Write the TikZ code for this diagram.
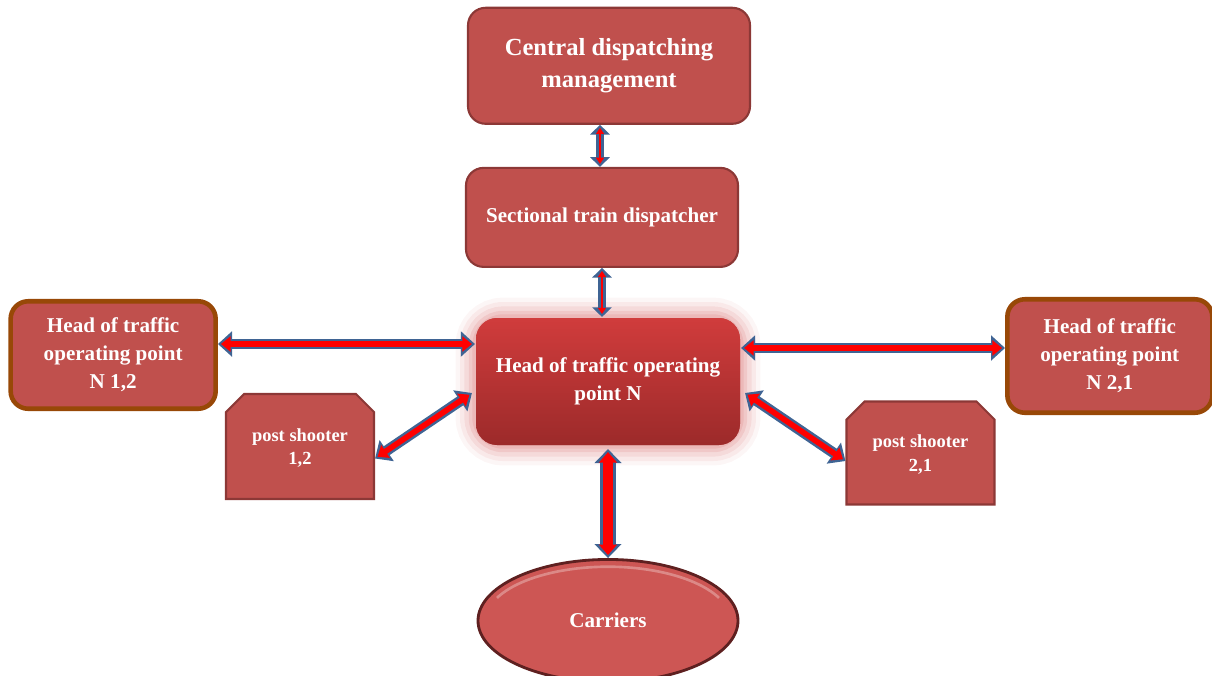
\documentclass[tikz,border=0pt]{standalone}
\usepackage{fontspec}
\setmainfont{Liberation Serif}
\usetikzlibrary{arrows.meta, positioning, shapes.geometric, shapes.misc, backgrounds}

\definecolor{boxred}{HTML}{C0504D}
\definecolor{boxline}{HTML}{8C3836}
\definecolor{headline}{HTML}{984807}
\definecolor{linkblue}{HTML}{3F6494}
\definecolor{cntop}{HTML}{D03C3C}
\definecolor{cnbot}{HTML}{9C2A2A}
\definecolor{glowred}{HTML}{E6A3A3}
\definecolor{ellfill}{HTML}{CD5654}
\definecolor{ellline}{HTML}{5E2020}

% double-coloured two-way arrow: outer style, inner style, from, to
\newcommand{\biarrow}[4]{%
    \draw[#1] #3 -- #4;
    \draw[#2] #3 -- #4;}

\begin{document}
\begin{tikzpicture}[
    node distance=1cm and 1cm,
    block/.style={
        draw=boxline,
        line width=1.2pt,
        rectangle,
        rounded corners=10pt,
        align=center,
        fill=boxred,
        text=white,
        font=\fontsize{12}{16}\selectfont\bfseries
    },
    headbox/.style={block, draw=headline, line width=2.6pt, minimum width=4.1cm, minimum height=2.15cm},
    centerbox/.style={block, draw=none, top color=cntop, bottom color=cnbot, rounded corners=12pt},
    postbox/.style={
        draw=boxline,
        line width=1.2pt,
        chamfered rectangle,
        chamfered rectangle corners={north west, north east},
        chamfered rectangle xsep=0.18cm,
        chamfered rectangle ysep=0.18cm,
        minimum width=2.96cm,
        minimum height=2.1cm,
        align=center,
        fill=boxred,
        text=white,
        font=\fontsize{10.5}{13.5}\selectfont\bfseries
    },
    carrierbox/.style={
        draw=ellline,
        line width=1.6pt,
        ellipse,
        inner sep=0pt,
        minimum width=5.2cm,
        minimum height=2.45cm,
        fill=ellfill,
        text=white,
        font=\fontsize{12}{15}\selectfont\bfseries
    },
    linkout/.style n args={3}{draw=linkblue, line width=#1, {Triangle[length=#2,width=#3]}-{Triangle[length=#2,width=#3]}},
    linkin/.style n args={3}{draw=red, line width=#1, {Triangle[length=#2,width=#3]}-{Triangle[length=#2,width=#3]}, shorten <=1.7pt, shorten >=1.7pt}
]
\useasboundingbox (0,0) rectangle (24.24,-13.5);

% middle of the scheme
\node[centerbox, minimum width=5.28cm, minimum height=2.54cm] (station) at (12.16,-7.63) {Head of traffic operating\\point N};

% upper levels
\node[block, minimum width=5.44cm, minimum height=1.98cm, above=0.98cm of station, xshift=-0.12cm] (sectional) {Sectional train dispatcher};
\node[block, minimum width=5.64cm, minimum height=2.32cm, above=0.84cm of sectional, xshift=0.14cm,
      font=\fontsize{14}{18}\selectfont\bfseries] (central) {Central dispatching\\management};

% neighbouring points
\node[headbox, left=5.14cm of station, yshift=0.53cm] (headleft) {Head of traffic\\operating point\\N 1,2};
\node[headbox, minimum height=2.27cm, right=5.28cm of station, yshift=0.51cm] (headright) {Head of traffic\\operating point\\N 2,1};

% post shooters
\node[postbox, text depth=-0.25cm] (postleft) at (6.00,-8.93) {post shooter\\1,2};
\node[postbox, text depth=-0.25cm, minimum height=2.06cm] (postright) at (18.41,-9.06) {post shooter\\2,1};

% carriers
\node[carrierbox, below=2.24cm of station] (carriers) {Carriers};
\draw[white, opacity=0.3, line width=1.5pt] ([shift={(155:2.45cm and 1.08cm)}]carriers.center) arc[start angle=155, end angle=25, x radius=2.45cm, y radius=1.08cm];

% glow round the middle box
\begin{scope}[on background layer]
\foreach \w/\o in {22/0.10, 17/0.15, 12/0.22, 7/0.32, 3/0.45}
    \draw[glowred, line width=\w pt, opacity=\o, rounded corners=16pt] (station.south west) rectangle (station.north east);
\end{scope}

% Arrows
\biarrow{linkout={5pt}{5.5pt}{11pt}}{linkin={1.6pt}{3.5pt}{4.5pt}}{([xshift=-0.18cm]central.south)}{([xshift=-0.18cm]central.south |- sectional.north)}
\biarrow{linkout={5pt}{5.5pt}{11pt}}{linkin={1.6pt}{3.5pt}{4.5pt}}{(sectional.south)}{(sectional.south |- station.north)}
\biarrow{linkout={6pt}{8pt}{14pt}}{linkin={3.2pt}{5.5pt}{8.5pt}}{([yshift=0.22cm]headleft.east)}{([yshift=0.22cm]headleft.east -| station.west)}
\biarrow{linkout={6pt}{8pt}{14pt}}{linkin={3.2pt}{5.5pt}{8.5pt}}{([yshift=0.16cm]headright.west -| station.east)}{([yshift=0.16cm]headright.west)}
\biarrow{linkout={6pt}{8pt}{14pt}}{linkin={3.2pt}{5.5pt}{8.5pt}}{([yshift=-0.24cm]postleft.east)}{([xshift=-0.06cm, yshift=-0.23cm]station.west)}
\biarrow{linkout={6pt}{8pt}{14pt}}{linkin={3.2pt}{5.5pt}{8.5pt}}{([xshift=0.08cm, yshift=-0.23cm]station.east)}{([yshift=-0.16cm]postright.west)}
\biarrow{linkout={9.5pt}{8pt}{15pt}}{linkin={5.2pt}{6pt}{10pt}}{([yshift=-0.06cm]station.south)}{(carriers.north)}

\end{tikzpicture}
\end{document}
